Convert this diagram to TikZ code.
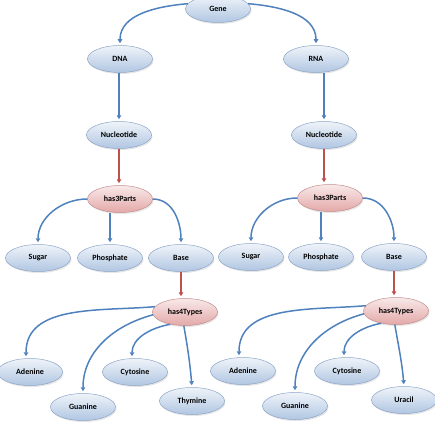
\documentclass[tikz,border=0pt]{standalone}
\usepackage{fontspec}
\setmainfont{Carlito}
\usepackage{tikz}
\usetikzlibrary{arrows.meta,shapes.geometric,shadows}
\usepackage{xcolor}
\definecolor{nodeblue}{RGB}{176,198,226}
\definecolor{nodeline}{RGB}{140,164,200}
\definecolor{relred}{RGB}{228,168,168}
\definecolor{relline}{RGB}{196,140,140}
\definecolor{arrowblue}{RGB}{79,129,189}
\definecolor{arrowred}{RGB}{192,80,77}

\begin{document}
\begin{tikzpicture}[x=1pt, y=-1pt, font=\bfseries\fontsize{8}{9.5}\selectfont,
      cnode/.style={ellipse, draw=nodeline, line width=0.5pt,
                    top color=white!80!nodeblue, bottom color=nodeblue,
                    minimum width=65pt, minimum height=27pt, inner sep=0pt,
                    drop shadow={shadow xshift=1pt, shadow yshift=-1.5pt, opacity=0.2}},
      rnode/.style={cnode, draw=relline, top color=white!75!relred, bottom color=relred},
      arr/.style={-{Triangle[width=4.5pt,length=4pt]}, line width=1.5pt,
                  draw=arrowblue, shorten >=2pt},
      rarr/.style={arr, draw=arrowred}
    ]
    \useasboundingbox (0,0) rectangle (435,428);

    \node[cnode] (gene) at (218,9) {Gene};
    \node[cnode] (dna) at (120,59) {DNA};
    \node[cnode] (rna) at (316,59) {RNA};

    % DNA side
    \node[cnode] (nucL)   at (119,135) {Nucleotide};
    \node[rnode] (has3L)  at (120,199) {has3Parts};
    \node[cnode] (sugL)   at (38,258)  {Sugar};
    \node[cnode] (phosL)  at (110,258) {Phosphate};
    \node[cnode] (baseL)  at (181,258) {Base};
    \node[rnode] (has4L)  at (185,312) {has4Types};
    \node[cnode] (adenL)  at (30,372)  {Adenine};
    \node[cnode] (cytL)   at (135,372) {Cytosine};
    \node[cnode] (guanL)  at (83,407)  {Guanine};
    \node[cnode] (thymL)  at (192,401) {Thymine};

    % RNA side
    \node[cnode] (nucR)   at (324,135) {Nucleotide};
    \node[rnode] (has3R)  at (330,198) {has3Parts};
    \node[cnode] (sugR)   at (251,257) {Sugar};
    \node[cnode] (phosR)  at (321,257) {Phosphate};
    \node[cnode] (baseR)  at (394,257) {Base};
    \node[rnode] (has4R)  at (396,311) {has4Types};
    \node[cnode] (adenR)  at (243,371) {Adenine};
    \node[cnode] (cytR)   at (347,371) {Cytosine};
    \node[cnode] (guanR)  at (295,406) {Guanine};
    \node[cnode] (uraR)   at (404,400) {Uracil};

    \draw[arr] (gene.170) to[out=185,in=90] (dna.north);
    \draw[arr] (gene.10) to[out=-5,in=90] (rna.north);
    \draw[arr] (dna.south -| nucL.north) -- (nucL.north);
    \draw[arr] (rna.south -| nucR.north) -- (nucR.north);
    \draw[rarr] (nucL.south) -- (has3L.north -| nucL.south);
    \draw[rarr] (nucR.south) -- (has3R.north -| nucR.south);

    \draw[arr] (has3L.west) to[out=180,in=90] (sugL.north);
    \draw[arr] (has3L.south -| phosL.north) -- (phosL.north);
    \draw[arr] (has3L.east) to[out=0,in=90] (baseL.north);
    \draw[rarr] (baseL.south) -- (has4L.north -| baseL.south);

    \draw[arr] (has3R.west) to[out=180,in=90] (sugR.north);
    \draw[arr] (has3R.south -| phosR.north) -- (phosR.north);
    \draw[arr] (has3R.east) to[out=0,in=90] (baseR.north);
    \draw[rarr] (baseR.south) -- (has4R.north -| baseR.south);

    \draw[arr] (has4L.170) to[out=185,in=90] ([xshift=-4pt]adenL.north);
    \draw[arr] (has4L.185) to[out=195,in=90] (guanL.north);
    \draw[arr] (has4L.220) to[out=190,in=90] ([xshift=-3pt]cytL.north);
    \draw[arr] (has4L.265) to[out=-80,in=95] (thymL.north);

    \draw[arr] (has4R.170) to[out=185,in=90] ([xshift=-4pt]adenR.north);
    \draw[arr] (has4R.185) to[out=195,in=90] (guanR.north);
    \draw[arr] (has4R.220) to[out=190,in=90] ([xshift=-3pt]cytR.north);
    \draw[arr] (has4R.265) to[out=-80,in=95] (uraR.north);
\end{tikzpicture}
\end{document}
